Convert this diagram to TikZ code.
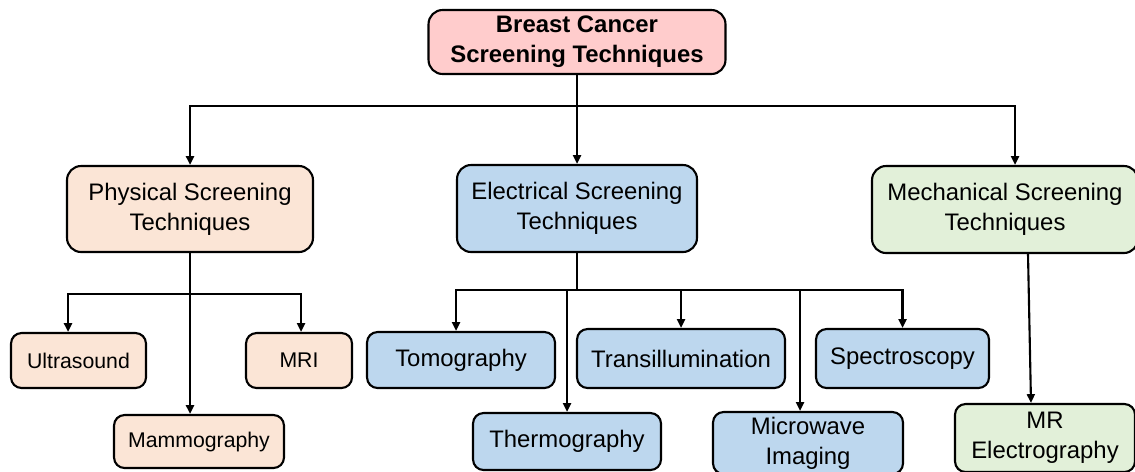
\documentclass[tikz,border=0pt]{standalone}
\usepackage{fontspec}
\setmainfont{Liberation Sans}
\usepackage{tikz}
\usetikzlibrary{arrows.meta}
\definecolor{rootpink}{RGB}{255,204,204}
\definecolor{physpeach}{RGB}{251,229,214}
\definecolor{elecblue}{RGB}{189,215,238}
\definecolor{mechgreen}{RGB}{226,240,217}
\tikzstyle{box}=[draw=black, line width=1.2pt, inner sep=0pt, align=center,
                 text=black, font=\fontsize{13.6}{17}\selectfont]
\tikzstyle{bigbox}=[box, rounded corners=8pt]
\tikzstyle{leaf}=[box, rounded corners=6pt]
\tikzstyle{conn}=[line width=1.2pt, -{Triangle[length=5pt,width=4.5pt]}]
\tikzstyle{bar}=[line width=1.2pt]

\begin{document}
\begin{tikzpicture}[x=0.02cm, y=-0.02cm]
  \useasboundingbox (0,0) rectangle (1135,471);
  % top
  \node[bigbox, fill=rootpink, font=\bfseries\fontsize{13.6}{17}\selectfont,
        minimum width=5.94cm, minimum height=1.28cm] (root) at (577,42)
        {Breast Cancer\\Screening Techniques};
  % second level
  \node[bigbox, fill=physpeach, minimum width=4.92cm, minimum height=1.72cm]
        (phys) at (190,209) {Physical Screening\\Techniques};
  \node[bigbox, fill=elecblue, minimum width=4.8cm, minimum height=1.74cm]
        (elec) at (577,208.5) {Electrical Screening\\Techniques};
  \node[bigbox, fill=mechgreen, minimum width=5.32cm, minimum height=1.74cm]
        (mech) at (1005,209.5) {Mechanical Screening\\Techniques};
  % physical leaves
  \node[leaf, fill=physpeach, font=\fontsize{12.1}{15}\selectfont,
        minimum width=2.7cm, minimum height=1.1cm] (ultra) at (78.5,360.5) {Ultrasound};
  \node[leaf, fill=physpeach, font=\fontsize{12.1}{15}\selectfont,
        minimum width=2.12cm, minimum height=1.1cm] (mri) at (299,360.5) {MRI};
  \node[leaf, fill=physpeach, font=\fontsize{12.1}{15}\selectfont,
        minimum width=3.4cm, minimum height=1.06cm] (mammo) at (199,441.5) {Mammography};
  % electrical leaves
  \node[leaf, fill=elecblue, minimum width=3.76cm, minimum height=1.12cm]
        (tomo) at (461,360) {Tomography};
  \node[leaf, fill=elecblue, minimum width=4.16cm, minimum height=1.18cm]
        (trans) at (681,358.5) {Transillumination};
  \node[leaf, fill=elecblue, minimum width=3.46cm, minimum height=1.18cm]
        (spec) at (902.5,358.5) {Spectroscopy};
  \node[leaf, fill=elecblue, minimum width=3.76cm, minimum height=1.14cm]
        (thermo) at (567,441.5) {Thermography};
  \node[leaf, fill=elecblue, minimum width=3.8cm, minimum height=1.24cm]
        (micro) at (808,443) {Microwave\\Imaging};
  % mechanical leaf
  \node[leaf, fill=mechgreen, minimum width=3.6cm, minimum height=1.36cm]
        (mrel) at (1045,438) {MR\\Electrography};
  % junctions
  \coordinate (j0) at (0,106);
  \coordinate (pj) at (0,294);
  \coordinate (ej) at (0,290);
  % root to categories
  \draw[bar] (root.south) -- (root.south |- j0);
  \draw[conn] (root.south |- j0) -| (phys.north);
  \draw[conn] (root.south |- j0) -| ([xshift=0.2cm]mech.north);
  \draw[conn] (root.south |- j0) -- (elec.north);
  % physical
  \draw[conn] (phys.south) -- (phys.south |- mammo.north);
  \draw[conn] (phys.south |- pj) -| ([xshift=-0.21cm]ultra.north);
  \draw[conn] (phys.south |- pj) -| ([xshift=0.04cm]mri.north);
  % electrical
  \draw[bar] (elec.south) -- (elec.south |- ej);
  \draw[conn] (elec.south |- ej) -| ([xshift=-0.1cm]tomo.north);
  \draw[conn] (elec.south |- ej) -| (spec.north);
  \draw[conn] (thermo.north |- ej) -- (thermo.north);
  \draw[conn] (trans.north |- ej) -- (trans.north);
  \draw[conn] ([xshift=-0.16cm]micro.north |- ej) -- ([xshift=-0.16cm]micro.north);
  % mechanical
  \draw[conn] ([xshift=0.46cm]mech.south) -- ([xshift=-0.28cm]mrel.north);
\end{tikzpicture}
\end{document}
